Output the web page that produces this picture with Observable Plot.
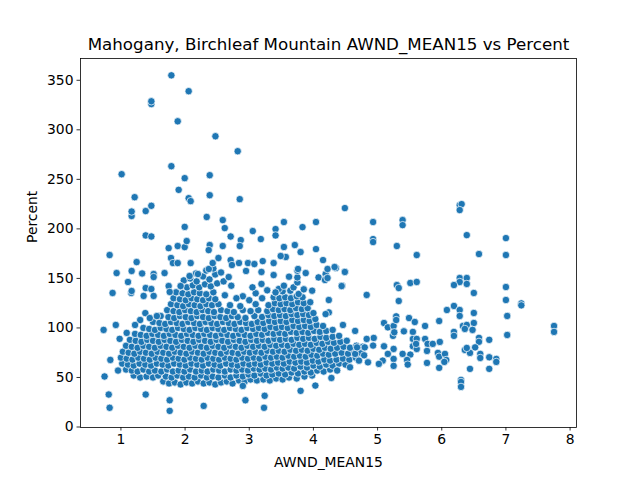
<!DOCTYPE html>
<html>
<head>
<meta charset="utf-8">
<script src="https://cdn.jsdelivr.net/npm/d3@7"></script>
<script src="https://cdn.jsdelivr.net/npm/@observablehq/plot@0.6"></script>
<style>
  html, body { margin: 0; padding: 0; background: #fff; }
  svg { font-family: "DejaVu Sans", sans-serif; }
</style>
</head>
<body>
<div id="chart"></div>
<script>
const chartTitle = "Mahogany, Birchleaf Mountain AWND_MEAN15 vs Percent";
const xLabel = "AWND_MEAN15";
const yLabel = "Percent";
const xTicks = [1, 2, 3, 4, 5, 6, 7, 8];
const yTicks = [0, 50, 100, 150, 200, 250, 300, 350];

// dense core of observations [AWND_MEAN15, Percent]
const coreBand = [
[1.66,46],[1.75,44],[1.84,45],[1.93,43],[2.02,45],[2.11,44],[2.2,46],[2.29,44],[2.38,45],[2.47,43],[2.56,45],[2.65,46],[2.74,44],[2.84,47],[2.93,46],[3.02,48],[3.12,47],[3.22,48],[3.32,47],[3.42,49],[3.52,48],[3.62,50],[3.74,49],[3.86,51],[3.98,52],
[1.2,52],[1.3,50],[1.4,51],[1.5,50],[1.58,52],[1.7,51],[1.79,50],[1.88,52],[1.97,50],[2.06,51],[2.15,50],[2.25,52],[2.34,50],[2.43,51],[2.52,50],[2.62,52],[2.71,50],[2.8,52],[2.9,51],[2.99,53],[3.08,52],[3.18,54],[3.27,52],[3.36,53],[3.46,54],[3.56,53],[3.66,55],[3.76,54],[3.86,56],[3.96,55],[4.06,57],[4.16,56],[4.26,58],
[1.08,58],[1.17,57],[1.26,56],[1.35,58],[1.44,56],[1.53,57],[1.63,56],[1.72,58],[1.81,56],[1.9,57],[1.99,56],[2.08,58],[2.17,56],[2.26,57],[2.35,56],[2.44,58],[2.53,57],[2.62,56],[2.71,58],[2.8,57],[2.89,58],[2.98,57],[3.07,59],[3.16,58],[3.25,59],[3.34,58],[3.43,60],[3.52,59],[3.61,60],[3.7,59],[3.8,61],[3.9,60],[4.0,62],[4.1,61],[4.2,63],[4.3,62],[4.4,64],[4.5,63],
[1.02,64],[1.11,63],[1.2,62],[1.29,64],[1.38,63],[1.47,62],[1.56,64],[1.65,63],[1.74,62],[1.83,64],[1.92,63],[2.01,62],[2.1,64],[2.19,63],[2.28,62],[2.37,64],[2.46,63],[2.55,62],[2.64,64],[2.73,63],[2.82,62],[2.91,64],[3.0,63],[3.09,64],[3.18,63],[3.27,65],[3.36,64],[3.45,65],[3.54,64],[3.63,66],[3.72,65],[3.81,66],[3.9,65],[3.99,67],[4.08,66],[4.17,68],[4.26,67],[4.36,68],[4.46,69],[4.56,68],[4.66,70],
[1.0,70],[1.09,69],[1.18,68],[1.27,70],[1.36,69],[1.45,68],[1.54,70],[1.63,69],[1.72,68],[1.81,70],[1.9,69],[1.99,68],[2.08,70],[2.17,69],[2.26,68],[2.35,70],[2.44,69],[2.53,68],[2.62,70],[2.71,69],[2.8,68],[2.89,70],[2.98,69],[3.07,70],[3.16,69],[3.25,71],[3.34,70],[3.43,71],[3.52,70],[3.61,72],[3.7,71],[3.79,72],[3.88,71],[3.97,73],[4.06,72],[4.15,74],[4.24,73],[4.34,74],[4.44,75],[4.54,74],[4.64,76],[4.74,75],
[1.03,76],[1.12,75],[1.21,74],[1.3,76],[1.39,75],[1.48,74],[1.57,76],[1.66,75],[1.75,74],[1.84,76],[1.93,75],[2.02,74],[2.11,76],[2.2,75],[2.29,74],[2.38,76],[2.47,75],[2.56,74],[2.65,76],[2.74,75],[2.83,74],[2.92,76],[3.01,75],[3.1,76],[3.19,75],[3.28,77],[3.37,76],[3.46,77],[3.55,76],[3.64,78],[3.73,77],[3.82,78],[3.91,77],[4.0,79],[4.09,78],[4.18,80],[4.27,79],[4.37,80],[4.47,81],[4.57,80],[4.67,82],[4.77,81],
[1.08,82],[1.17,81],[1.26,80],[1.35,82],[1.44,81],[1.53,80],[1.62,82],[1.71,81],[1.8,80],[1.89,82],[1.98,81],[2.07,80],[2.16,82],[2.25,81],[2.34,80],[2.43,82],[2.52,81],[2.61,80],[2.7,82],[2.79,81],[2.88,80],[2.97,82],[3.06,81],[3.15,82],[3.24,81],[3.33,83],[3.42,82],[3.51,83],[3.6,82],[3.69,84],[3.78,83],[3.87,84],[3.96,83],[4.05,85],[4.14,84],[4.23,86],[4.32,85],[4.42,86],[4.52,87],
[1.14,88],[1.23,87],[1.32,86],[1.41,88],[1.5,87],[1.59,86],[1.68,88],[1.77,87],[1.86,86],[1.95,88],[2.04,87],[2.13,86],[2.22,88],[2.31,87],[2.4,86],[2.49,88],[2.58,87],[2.67,86],[2.76,88],[2.85,87],[2.94,86],[3.03,88],[3.12,87],[3.21,88],[3.3,87],[3.39,89],[3.48,88],[3.57,89],[3.66,88],[3.75,90],[3.84,89],[3.93,90],[4.02,89],[4.11,91],[4.2,90],[4.3,91],[4.4,92],
[1.22,94],[1.31,93],[1.4,92],[1.49,94],[1.58,93],[1.67,92],[1.76,94],[1.85,93],[1.94,92],[2.03,94],[2.12,93],[2.21,92],[2.3,94],[2.39,93],[2.48,92],[2.57,94],[2.66,93],[2.75,92],[2.84,94],[2.93,93],[3.02,92],[3.11,94],[3.2,93],[3.29,95],[3.38,94],[3.47,95],[3.56,94],[3.65,96],[3.74,95],[3.83,96],[3.92,95],[4.01,97],[4.1,96],[4.2,97],[4.3,98],
[1.35,100],[1.44,99],[1.53,98],[1.62,100],[1.71,99],[1.8,98],[1.89,100],[1.98,99],[2.07,98],[2.16,100],[2.25,99],[2.34,98],[2.43,100],[2.52,99],[2.61,98],[2.7,100],[2.79,99],[2.88,98],[2.97,100],[3.06,99],[3.15,100],[3.24,99],[3.33,101],[3.42,100],[3.51,101],[3.6,100],[3.69,102],[3.78,101],[3.87,102],[3.96,101],[4.05,103],[4.15,102],
[1.5,106],[1.6,105],[1.69,104],[1.78,106],[1.87,105],[1.96,104],[2.05,106],[2.14,105],[2.23,104],[2.32,106],[2.41,105],[2.5,104],[2.59,106],[2.68,105],[2.77,104],[2.86,106],[2.95,105],[3.04,104],[3.13,106],[3.22,105],[3.31,107],[3.4,106],[3.49,107],[3.58,106],[3.67,108],[3.76,107],[3.85,108],[3.94,107],[4.03,109],
[1.62,112],[1.74,111],[1.83,110],[1.92,112],[2.01,111],[2.1,110],[2.19,112],[2.28,111],[2.37,110],[2.46,112],[2.55,111],[2.64,110],[2.73,112],[2.82,111],[2.94,110],[3.08,112],[3.2,111],[3.3,113],[3.39,112],[3.48,113],[3.57,112],[3.66,114],[3.75,113],[3.84,114],[3.93,113],[4.0,115],
[1.72,118],[1.82,117],[1.91,116],[2.0,118],[2.09,117],[2.18,116],[2.27,118],[2.36,117],[2.45,116],[2.56,118],[2.66,117],[2.76,116],[2.9,118],[3.02,117],[3.14,118],[3.28,117],[3.37,119],[3.46,118],[3.55,119],[3.64,118],[3.73,120],[3.82,119],[3.91,120],
[1.78,124],[1.88,123],[1.97,122],[2.06,124],[2.15,123],[2.24,122],[2.33,124],[2.42,123],[2.52,124],[2.7,123],[2.86,122],[3.1,124],[3.3,123],[3.4,125],[3.49,124],[3.58,125],[3.67,124],[3.76,126],[3.85,125],[3.95,126],
[1.82,130],[1.92,129],[2.01,128],[2.1,130],[2.19,129],[2.28,128],[2.37,130],[2.47,129],[3.38,131],[3.47,130],[3.56,131],[3.65,130],[3.74,132],[3.83,131],
[1.86,136],[1.96,135],[2.05,134],[2.14,136],[2.23,135],[2.33,134],[2.44,136],[3.41,136],[3.52,137],[3.64,137.6],[3.77,134.3],[3.85,139],[3.98,137.6]
];

// upper lobes above the core
const upperLobe = [
[1.93,142],[2.03,141],[2.12,143],[2.22,141],[2.31,144],[2.4,142],[2.5,145],[2.6,147],[1.98,148],[2.08,150],[2.18,147],[2.28,152],[2.38,149],[2.47,154],[2.56,156],[2.17,155],[2.33,158],[2.44,160],[2.07,152.4],[2.2,154.4],[2.37,159.5],[2.43,165.5],[2.52,170.6],
[3.46,139.3],[3.54,142.6],[3.69,141],[3.75,146],[3.62,151.7],[3.75,151],[3.75,157.8],[3.88,155.4],[4.08,151],[4.19,154.4],[4.19,149.3],[4.35,160.5],[4.49,156.8],[4.45,142.6],[4.44,142.3],[4.22,159.5],[4.18,148.4],[4.24,128.2],[3.41,135.9],[4.24,115.7],[4.19,114],
[2.68,151.4],[2.72,142.6],[2.95,157.5],[3.19,144.4],[2.9,132],[3.0,128],[3.1,135],[2.8,130],[3.2,130],[2.62,133],[3.05,141],[3.28,138]
];

// scattered high and left observations
const scatterHigh = [
[0.824,173.6],[0.87,135.3],[0.933,155.4],[1.011,255.2],[1.11,146.4],[1.16,135.3],[1.167,137.3],[1.167,157.5],[1.167,213],[1.167,217.5],[1.214,232],[1.245,166.5],[1.33,155],[1.354,132.3],[1.386,140.3],[1.386,193.4],[1.386,218],[1.474,139.3],[1.474,192.3],[1.474,223.3],[1.474,326],[1.474,328.8],[1.51,154.4],[1.51,151.4],[1.51,132.3],[1.68,155.4],[1.744,142.3],[1.76,136.3],[1.744,180.6],[1.786,263.3],[1.786,355],[1.78,170.6],[1.81,165.5],[1.885,165.5],[1.885,308.6],[1.885,182.7],[1.9,239.4],[1.93,142.3],[1.994,181.6],[1.994,202],[1.994,251.2],[2.025,187.7],[2.056,339],[2.056,231],[2.087,228],[2.087,165.5],[2.337,212],[2.384,234],[2.384,254.2],[2.384,183.7],[2.368,178.6],[2.473,293.5],[2.587,208.9],[2.618,200.8],[2.587,182.7],[2.71,192.3],[2.71,168.5],[2.73,163.5],[2.84,165.5],[2.82,278.4],[2.852,230],[2.868,188.7],[2.852,182.7],[2.98,165.5],[3.055,197.8],[3.08,164.5],[3.18,189.7],[3.21,167.5],[3.38,165.5],[3.19,156.5],[3.38,153.4],[3.41,199.8],[3.41,193.4],[3.54,206.9],[3.54,181.7],[3.57,171.6],[3.49,172.6],[3.71,183.7],[3.80,176.6],[3.83,201.8],[4.04,206.9],[4.04,179.6],[4.15,168.5],[3.76,159.5],[4.22,150.4],
[0.73,98],[0.92,103],[0.98,89],[1.09,95],[1.38,115],[1.3,108],[1.22,103],[1.45,110],[1.56,112]
];

// low observations
const scatterLow = [
[0.745,51],[0.835,67.7],[0.955,57],[0.81,32.8],[0.824,19.4],[1.386,32.8],[1.76,27],[1.76,16.3],[2.29,21.3],[2.94,27],[3.24,31.5],[3.23,19.4],[3.8,36.5],[2.9,41.5],[4.03,41.8],[4.28,49.5],[4.37,57],[4.57,60.3]
];

// observations at higher wind speeds
const rightTail = [
[4.49,221],[4.93,206.9],[4.93,189.7],[4.93,186.7],[5.39,208.9],[5.39,203.8],[5.30,182.7],[5.61,173.6],[6.28,224],[6.31,225],[6.28,219],[6.39,193.7],[6.58,174.6],[7.0,190.7],[7.0,173.6],[7.0,141.3],[7.0,128.2],[7.02,112.1],[7.02,92.9],[7.24,124.8],[7.24,122.8],[7.75,102],[7.75,96],
[6.28,150.4],[6.39,150.4],[6.28,146.4],[6.39,144.4],[6.19,143.3],[6.5,135.3],[6.08,118.1],[6.19,122.2],[6.28,118.1],[6.28,112.1],[6.5,115.1],[5.96,107],[6.19,96],[6.19,92],[6.33,102],[6.39,103],[6.5,105],[6.48,98],[6.36,99],[6.58,90],[6.58,86],[6.74,88],[6.52,80.4],[6.36,77.8],[6.44,74.8],[6.39,79.8],[6.6,73.8],[6.6,69.7],[6.74,70.4],[6.85,68.7],[6.85,65.7],[6.44,58.7],[6.74,58.7],[6.3,47.6],[6.3,45.5],[6.3,40.5],
[5.1,105],[5.16,100.6],[5.25,102],[5.29,111.7],[5.29,108],[5.49,110],[5.58,106],[5.74,102],[5.30,143.3],[5.33,140.3],[5.51,145.4],[5.61,146.4],[5.33,127.2],[4.83,133.3],[4.44,142.3],[4.49,156.5],[4.33,161.5],[4.46,103],[4.65,97],
[5.24,92],[5.26,95.6],[5.41,96.6],[5.55,96],[5.55,88.9],[5.61,88.9],[5.55,81.5],[5.74,88.9],[5.78,83.9],[5.86,83.9],[5.97,85.9],[5.77,76.8],[5.94,74.8],[5.96,71],[6.05,73.8],[6.07,67.7],[6.04,65.7],[5.77,64.7],[5.96,59.7],
[5.51,73.1],[5.46,67.7],[5.39,73.8],[5.25,78.8],[5.25,68.7],[5.25,61.7],[5.47,63],[5.61,78.8],[5.6,83.9],
[5.1,81.5],[5.16,73.8],[5.08,67],[5.02,63.7],[4.94,89.9],[4.93,82.2],[4.83,88.9],[4.8,80.4],[4.79,72.4],[4.85,65.3],[4.71,67],[4.65,73.8],[4.68,80.4]
];

const points = [...coreBand, ...upperLobe, ...scatterHigh, ...scatterLow, ...rightTail]
  .map(([x, y]) => ({x, y}));

const chart = Plot.plot({
  width: 640,
  height: 480,
  marginLeft: 80,
  marginRight: 64,
  marginTop: 58,
  marginBottom: 53,
  style: {fontFamily: "DejaVu Sans, sans-serif", color: "#000", background: "#fff", overflow: "visible"},
  x: {domain: [0.37, 8.1]},
  y: {domain: [-0.5, 372]},
  marks: [
    Plot.dot(points, {x: "x", y: "y", r: 3.7, fill: "#1f77b4", stroke: "#ffffff", strokeWidth: 0.7}),
    Plot.frame({stroke: "#000", strokeWidth: 0.8}),
    Plot.axisX({ticks: xTicks, tickSize: 3.5, tickPadding: 3.5, fontSize: 13.9, label: null, strokeWidth: 0.8}),
    Plot.axisY({ticks: yTicks, tickSize: 3.5, tickPadding: 3.5, fontSize: 13.9, label: null, strokeWidth: 0.8}),
    Plot.text([chartTitle], {frameAnchor: "top", dy: -14, lineAnchor: "middle", fontSize: 16.7, fill: "#000"}),
    Plot.text([xLabel], {frameAnchor: "bottom", dy: 35, lineAnchor: "middle", fontSize: 13.9, fill: "#000"}),
    Plot.text([yLabel], {frameAnchor: "left", dx: -48, rotate: -90, lineAnchor: "middle", fontSize: 13.9, fill: "#000"})
  ]
});
document.getElementById("chart").appendChild(chart);
</script>
</body>
</html>
